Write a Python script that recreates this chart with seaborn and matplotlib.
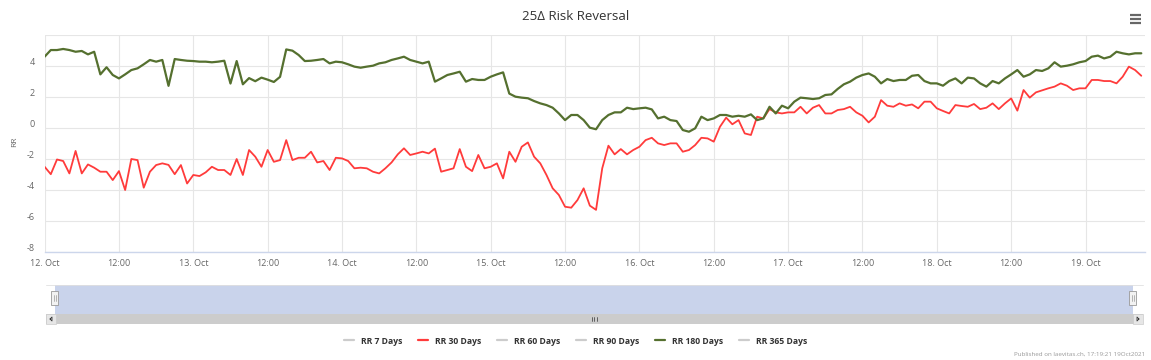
import numpy as np
import pandas as pd
import matplotlib
matplotlib.use("Agg")
import matplotlib.pyplot as plt
import matplotlib.dates as mdates
import matplotlib.transforms as mtransforms
from matplotlib.lines import Line2D
from matplotlib.patches import Rectangle
import seaborn as sns

# ---------------------------------------------------------------
# data: hourly readings from 12 Oct 2021 00:00
# ---------------------------------------------------------------
start_time = "2021-10-12 00:00"

rr_30d = [
    -2.52, -3.00, -2.05, -2.15, -2.95, -1.50, -2.95, -2.37, -2.58, -2.84,
    -2.84, -3.38, -2.80, -4.02, -2.02, -2.09, -3.87, -2.84, -2.41, -2.30,
    -2.40, -3.00, -2.41, -3.60, -3.05, -3.12, -2.88, -2.52, -2.73, -2.73,
    -3.05, -2.02, -3.05, -1.44, -1.87, -2.52, -1.44, -2.20, -2.09, -0.80,
    -2.09, -1.94, -1.94, -1.55, -2.24, -2.15, -2.73, -1.94, -1.98, -2.15,
    -2.62, -2.58, -2.62, -2.84, -2.95, -2.62, -2.24, -1.72, -1.33, -1.76,
    -1.66, -1.55, -1.66, -1.35, -2.84, -2.73, -2.62, -1.38, -2.52, -2.80,
    -1.76, -2.62, -2.52, -2.30, -3.27, -1.55, -2.20, -1.23, -0.95, -1.87,
    -2.30, -3.05, -3.91, -4.34, -5.10, -5.16, -4.67, -3.91, -5.03, -5.30,
    -2.62, -1.16, -1.72, -1.38, -1.72, -1.44, -1.23, -0.80, -0.65, -1.01,
    -1.12, -1.01, -1.01, -1.55, -1.44, -1.12, -0.65, -0.69, -0.90, 0.06,
    0.65, 0.22, 0.49, -0.37, -0.47, 0.71, 0.60, 1.20, 0.99, 0.92,
    0.99, 0.99, 1.35, 0.92, 1.29, 1.46, 0.92, 0.92, 1.14, 1.20,
    1.35, 0.99, 0.77, 0.34, 0.71, 1.78, 1.42, 1.35, 1.57, 1.42,
    1.50, 1.25, 1.68, 1.68, 1.25, 1.08, 0.92, 1.46, 1.40, 1.35,
    1.53, 1.20, 1.29, 1.57, 1.20, 1.57, 1.89, 1.10, 2.43, 1.94,
    2.28, 2.41, 2.54, 2.65, 2.86, 2.71, 2.43, 2.54, 2.54, 3.08,
    3.08, 3.01, 3.01, 2.86, 3.29, 3.94, 3.72, 3.35,
]

rr_180d = [
    4.58, 5.01, 5.01, 5.08, 5.01, 4.90, 4.95, 4.73, 4.90, 3.44,
    3.90, 3.40, 3.18, 3.44, 3.72, 3.83, 4.09, 4.37, 4.26, 4.37,
    2.70, 4.43, 4.37, 4.32, 4.30, 4.26, 4.26, 4.22, 4.26, 4.32,
    2.85, 4.30, 2.80, 3.20, 3.00, 3.23, 3.10, 2.95, 3.28, 5.05,
    4.97, 4.69, 4.30, 4.32, 4.37, 4.43, 4.15, 4.26, 4.22, 4.09,
    3.94, 3.87, 3.94, 4.00, 4.15, 4.22, 4.37, 4.47, 4.58, 4.37,
    4.26, 4.15, 4.26, 2.97, 3.18, 3.40, 3.50, 3.61, 2.97, 3.14,
    3.08, 3.08, 3.29, 3.44, 3.57, 2.20, 2.00, 1.94, 1.90, 1.72,
    1.57, 1.46, 1.29, 0.92, 0.49, 0.82, 0.82, 0.49, 0.00, -0.10,
    0.49, 0.82, 0.99, 0.99, 1.29, 1.20, 1.25, 1.29, 1.18, 0.60,
    0.71, 0.49, 0.43, -0.15, -0.26, -0.04, 0.71, 0.49, 0.60, 0.82,
    0.82, 0.71, 0.77, 0.71, 0.86, 0.49, 0.60, 1.35, 0.92, 1.42,
    1.25, 1.68, 1.94, 1.90, 1.85, 1.90, 2.11, 2.15, 2.50, 2.80,
    2.97, 3.23, 3.40, 3.50, 3.29, 2.86, 3.14, 3.01, 3.08, 3.08,
    3.35, 3.40, 3.01, 2.86, 2.86, 2.71, 3.01, 3.18, 2.86, 3.23,
    3.18, 2.86, 2.65, 3.01, 2.86, 3.18, 3.44, 3.72, 3.29, 3.44,
    3.72, 3.66, 3.83, 4.22, 3.94, 4.00, 4.09, 4.22, 4.30, 4.58,
    4.65, 4.47, 4.58, 4.90, 4.80, 4.73, 4.80, 4.80,
]

legend_names = ["RR 7 Days", "RR 30 Days", "RR 60 Days",
                "RR 90 Days", "RR 180 Days", "RR 365 Days"]
y_ticks = [-8, -6, -4, -2, 0, 2, 4, 6]

colors = {"RR 30 Days": "#ff3b3b", "RR 180 Days": "#55702f"}
hidden_color = "#cccccc"

times = pd.date_range(start_time, periods=len(rr_30d), freq="h")
df = pd.DataFrame({
    "time": list(times) * 2,
    "RR": rr_30d + rr_180d,
    "series": ["RR 30 Days"] * len(rr_30d) + ["RR 180 Days"] * len(rr_180d),
})

# ---------------------------------------------------------------
# figure
# ---------------------------------------------------------------
sns.set_style("white")
plt.rcParams["font.family"] = ["Open Sans", "DejaVu Sans"]

W_PX, H_PX = 1151, 360
fig = plt.figure(figsize=(W_PX / 100, H_PX / 100), dpi=100)

left, right, top, bottom = 44.6, 1145, 34.7, 251.7
ax = fig.add_axes([left / W_PX, 1 - bottom / H_PX,
                   (right - left) / W_PX, (bottom - top) / H_PX])

sns.lineplot(data=df[df.series == "RR 30 Days"], x="time", y="RR",
             color=colors["RR 30 Days"], lw=1.3, ax=ax, legend=False)
sns.lineplot(data=df[df.series == "RR 180 Days"], x="time", y="RR",
             color=colors["RR 180 Days"], lw=1.6, ax=ax, legend=False)

t0 = pd.Timestamp(start_time)
ax.set_xlim(t0, t0 + pd.Timedelta(hours=177.6))
ax.set_ylim(-8, 6)

ax.xaxis.set_major_locator(mdates.HourLocator(byhour=[0, 12]))


def fmt_date(x, pos=None):
    d = mdates.num2date(x)
    return f"{d.day}. Oct" if d.hour == 0 else "12:00"


ax.xaxis.set_major_formatter(plt.FuncFormatter(fmt_date))
ax.set_yticks(y_ticks)
ax.set_yticklabels([str(v) if v < 6 else "" for v in y_ticks])

ax.grid(True, color="#e6e6e6", lw=0.8)
for s in ["top", "right", "left"]:
    ax.spines[s].set_visible(False)
ax.spines["bottom"].set_color("#ccd6eb")
ax.spines["bottom"].set_linewidth(1.0)
ax.tick_params(axis="x", length=0, pad=5, labelsize=6.5, labelcolor="#666666")
ax.tick_params(axis="y", length=0, pad=7, labelsize=6.5, labelcolor="#666666")
ax.set_xlabel("")
ax.set_ylabel("")

# highcharts puts y labels slightly above their grid lines
shift = mtransforms.ScaledTranslation(0, 4 / 100, fig.dpi_scale_trans)
for t in ax.yaxis.get_major_ticks():
    t.label1.set_transform(t.label1.get_transform() + shift)

fig.text(15 / W_PX, 1 - 142 / H_PX, "RR", rotation=90, ha="center",
         va="center", fontsize=6, color="#666666")
fig.text(0.5, 1 - 16 / H_PX, "25Δ Risk Reversal", ha="center", va="center",
         fontsize=9.5, color="#333333")

# ---------------------------------------------------------------
# decoration overlay in pixel coords: menu icon, navigator, scrollbar
# ---------------------------------------------------------------
deco = fig.add_axes([0, 0, 1, 1], zorder=-1)
deco.set_xlim(0, W_PX)
deco.set_ylim(H_PX, 0)
deco.axis("off")

for yy in (15, 19, 23):
    deco.plot([1130, 1141], [yy, yy], color="#666666", lw=1.6,
              solid_capstyle="butt")

deco.plot([46, 1143], [285, 285], color="#e0e0e0", lw=0.6)
deco.add_patch(Rectangle((55, 285), 1133 - 55, 29, facecolor="#c9d3eb",
                         edgecolor="none"))
for hx in (55, 1133):
    deco.add_patch(Rectangle((hx - 3.5, 291), 7, 14, facecolor="#f2f2f2",
                             edgecolor="#999999", lw=0.6))
    deco.plot([hx - 1, hx - 1], [295, 301], color="#999999", lw=0.5)
    deco.plot([hx + 1, hx + 1], [295, 301], color="#999999", lw=0.5)

deco.add_patch(Rectangle((46, 314), 1143 - 46, 10, facecolor="#cccccc",
                         edgecolor="none"))
for bx in (46, 1133):
    deco.add_patch(Rectangle((bx, 314), 10, 10, facecolor="#e6e6e6",
                             edgecolor="#cccccc", lw=0.5))
deco.plot([50, 52, 52, 50], [319, 317, 321, 319], color="#333333", lw=0.6)
deco.plot([1139, 1137, 1137, 1139], [319, 317, 321, 319], color="#333333", lw=0.6)
for gx in (592, 594.5, 597):
    deco.plot([gx, gx], [317, 321], color="#333333", lw=0.5)

# ---------------------------------------------------------------
# legend
# ---------------------------------------------------------------
handles = [Line2D([], [], color=colors.get(n, hidden_color), lw=1.6)
           for n in legend_names]
leg = fig.legend(handles, legend_names, loc="center",
                 bbox_to_anchor=(0.5, 1 - 341 / H_PX), ncol=6, frameon=False,
                 fontsize=6.2, handlelength=1.2, handletextpad=0.8,
                 columnspacing=1.8)
for txt in leg.get_texts():
    txt.set_fontweight("bold")
    txt.set_color("#333333")

fig.text(1145 / W_PX, 1 - 354 / H_PX,
         "Published on laevitas.ch, 17:19:21 19Oct2021",
         ha="right", va="center", fontsize=4.5, color="#999999")

fig.savefig("out.png", dpi=100)
